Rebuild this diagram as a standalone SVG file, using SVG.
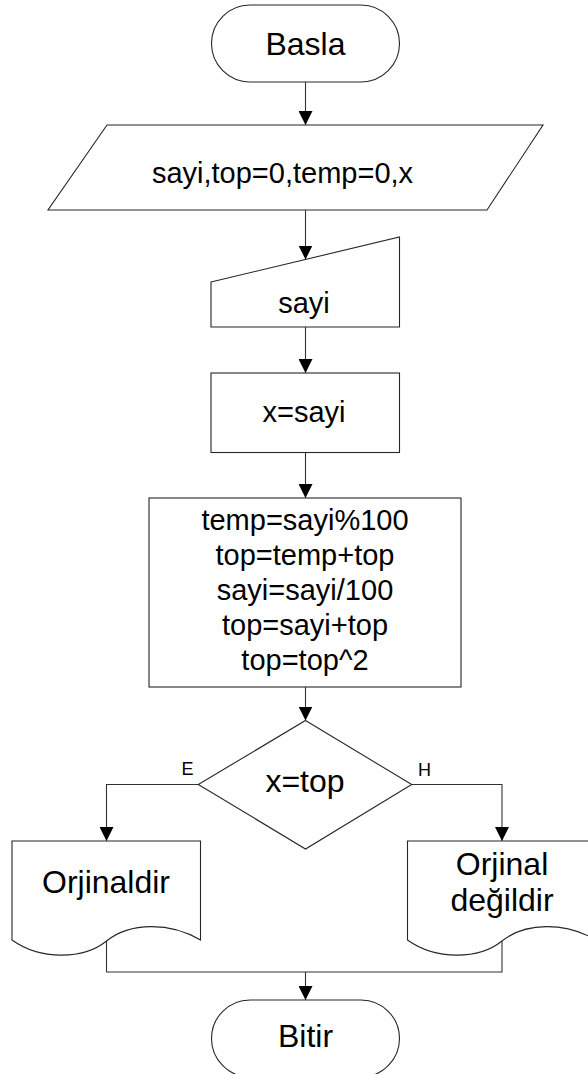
<svg xmlns="http://www.w3.org/2000/svg" width="588" height="1074" viewBox="0 0 588 1074">
<style>
.s{fill:#fff;stroke:#262626;stroke-width:1.1}
.c{fill:none;stroke:#333;stroke-width:1.1}
text{font-family:"Liberation Sans",Arial,sans-serif;fill:#000;text-anchor:middle}
.m{font-size:29px}
.b{font-size:32px}
.l{font-size:18px}
</style>
<defs>
<marker id="ah" markerUnits="userSpaceOnUse" markerWidth="14" markerHeight="14" refX="14" refY="7" orient="auto">
<path d="M0,0 L14,7 L0,14 Z" fill="#000"/>
</marker>
</defs>
<rect width="588" height="1074" fill="#fff"/>
<g id="connectors">
<path class="c" d="M305.5,82 V125" marker-end="url(#ah)"/>
<path class="c" d="M305.5,210 V259.5" marker-end="url(#ah)"/>
<path class="c" d="M305.5,327 V373" marker-end="url(#ah)"/>
<path class="c" d="M305.5,452.5 V498" marker-end="url(#ah)"/>
<path class="c" d="M305.5,687 V720.5" marker-end="url(#ah)"/>
<path class="c" d="M198.3,784.5 H106.5 V841" marker-end="url(#ah)"/>
<path class="c" d="M411.7,784.5 H502 V841" marker-end="url(#ah)"/>
<path class="c" d="M106.5,941 V972 H502 V941"/>
<path class="c" d="M305.5,972 V1000" marker-end="url(#ah)"/>
<text class="l" x="187.5" y="775">E</text>
<text class="l" x="424.5" y="776">H</text>
</g>
<g id="start">
<rect class="s" x="211.5" y="5" width="188" height="77" rx="38.5" ry="38.5"/>
<text class="b" x="305.5" y="55">Basla</text>
</g>
<g id="input">
<polygon class="s" points="107,125 543,125 487,210 48,210"/>
<text class="m" x="282.5" y="183">sayi,top=0,temp=0,x</text>
</g>
<g id="manual">
<polygon class="s" points="211,282 399.5,237 399.5,327 211,327"/>
<text class="m" x="304" y="313">sayi</text>
</g>
<g id="assign">
<rect class="s" x="211" y="373" width="188.5" height="79.5"/>
<text class="m" x="304" y="422">x=sayi</text>
</g>
<g id="process">
<rect class="s" x="149" y="498" width="312" height="189"/>
<text class="m" x="305" y="530">temp=sayi%100</text>
<text class="m" x="305" y="565">top=temp+top</text>
<text class="m" x="305" y="600">sayi=sayi/100</text>
<text class="m" x="305" y="635">top=sayi+top</text>
<text class="m" x="305" y="670">top=top^2</text>
</g>
<g id="decision">
<polygon class="s" points="305.5,720.5 411.7,784.5 305.5,849 198.3,784.5"/>
<text class="b" x="305" y="792">x=top</text>
</g>
<g id="doc-yes">
<path class="s" d="M12,841 H200.5 V940 C170,922 130,922 106.5,941 C83,960 40,960 12,940 Z"/>
<text class="b" x="106" y="893">Orjinaldir</text>
</g>
<g id="doc-no">
<path class="s" d="M407.5,841 H596 V940 C565.5,922 525.5,922 502,941 C478.5,960 435.5,960 407.5,940 Z"/>
<text class="b" x="502" y="875">Orjinal</text>
<text class="b" x="502" y="911">değildir</text>
</g>
<g id="end">
<rect class="s" x="211.5" y="1000" width="188" height="77" rx="38.5" ry="38.5"/>
<text class="b" x="305.5" y="1047">Bitir</text>
</g>
</svg>
